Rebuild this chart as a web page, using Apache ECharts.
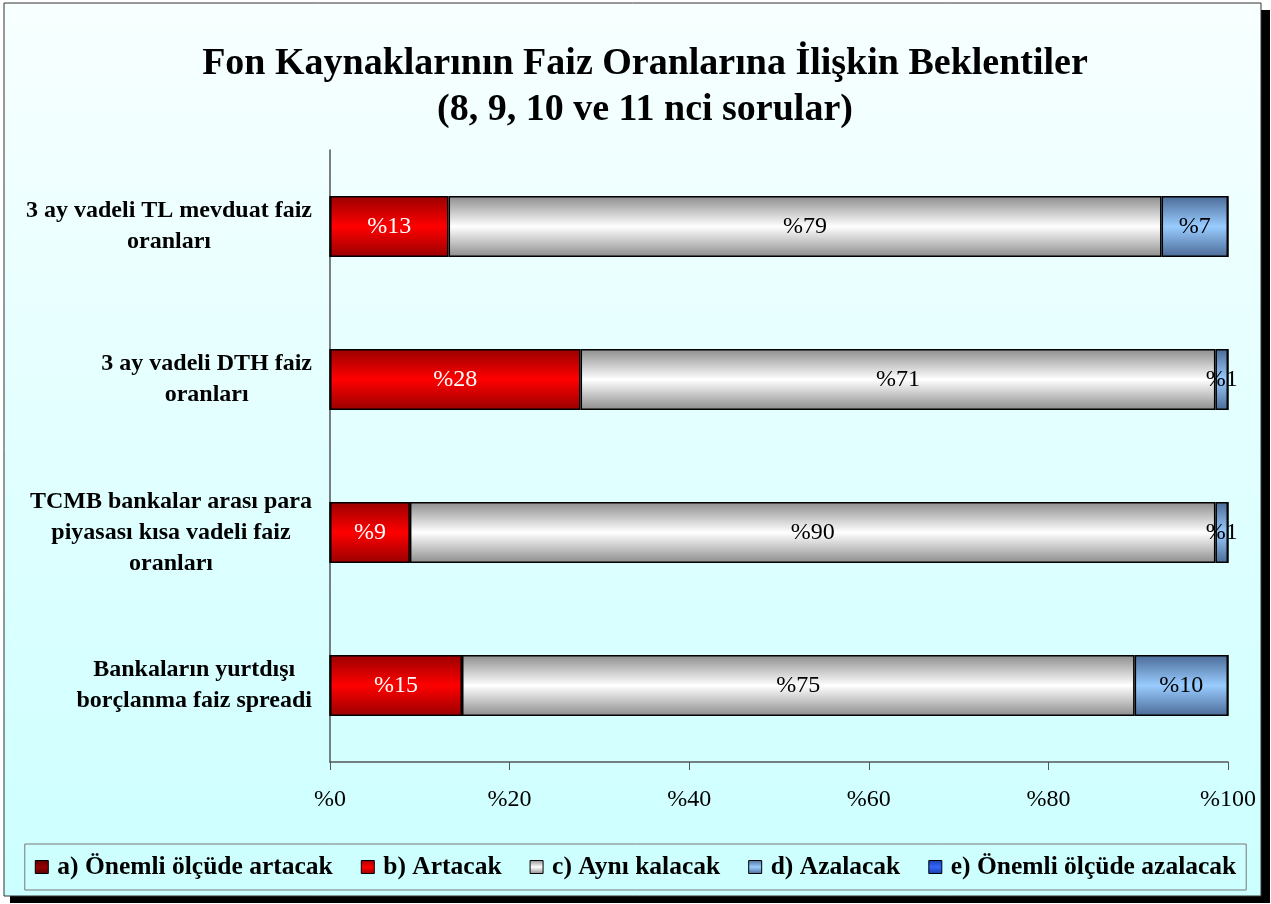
<html>
<head>
    <meta charset="utf-8">
    <title>Chart</title>
    <script src="https://cdn.jsdelivr.net/npm/echarts@6/dist/echarts.min.js"></script>
    <style>
        html, body { margin: 0; padding: 0; height: 100%; width: 100%; background: #ffffff; }
    </style>
</head>
<body>
    <div id="main" style="height: 904px; width: 1271px;"></div>
    <script type="text/javascript">
        // veriler
        var categories = [
            '3 ay vadeli TL mevduat faiz\noranları',
            '3 ay vadeli DTH faiz\noranları',
            'TCMB bankalar arası para\npiyasası kısa vadeli faiz\noranları',
            'Bankaların yurtdışı\nborçlanma faiz spreadi'
        ];
        var seriesNames = ['a) Önemli ölçüde artacak', 'b) Artacak', 'c) Aynı kalacak', 'd) Azalacak', 'e) Önemli ölçüde azalacak'];
        var onemliArtacak = [0, 0, 0, 0];
        var artacak = [13.2, 27.9, 8.9, 14.7];
        var ayniKalacak = [79.4, 70.7, 89.7, 74.9];
        var azalacak = [7.4, 1.4, 1.4, 10.4];
        var onemliAzalacak = [0, 0, 0, 0];
        var xTicks = [0, 20, 40, 60, 80, 100];

        var serif = '"Liberation Serif", "Times New Roman", serif';

        function grad(edge, mid) {
            return new echarts.graphic.LinearGradient(0, 0, 0, 1, [
                { offset: 0, color: edge },
                { offset: 0.5, color: mid },
                { offset: 1, color: edge }
            ]);
        }

        var colors = [
            grad('#5a0000', '#990000'),
            grad('#990000', '#ff0000'),
            grad('#8c8c8c', '#ffffff'),
            grad('#4a6a96', '#99ccff'),
            grad('#1a3caa', '#3366ff')
        ];
        var textColors = ['#ffffff', '#ffffff', '#000000', '#000000', '#000000'];
        var dataSets = [onemliArtacak, artacak, ayniKalacak, azalacak, onemliAzalacak];

        var series = seriesNames.map(function (name, i) {
            return {
                name: name,
                type: 'bar',
                stack: 'toplam',
                barWidth: '40%',
                data: dataSets[i],
                itemStyle: { color: colors[i], borderColor: '#000', borderWidth: 1.5 },
                label: {
                    show: true,
                    position: 'inside',
                    fontFamily: serif,
                    fontSize: 24,
                    color: textColors[i],
                    formatter: function (p) {
                        return p.value > 0 ? '%' + Math.round(p.value) : '';
                    }
                }
            };
        });

        var myChart = echarts.init(document.getElementById('main'));
        var option = {
            animation: false,
            graphic: [
                { type: 'rect', z: -20, silent: true, shape: { x: 10, y: 10, width: 1260, height: 893 }, style: { fill: '#000' } },
                {
                    type: 'rect', z: -19, silent: true,
                    shape: { x: 4, y: 3, width: 1257, height: 893 },
                    style: {
                        fill: new echarts.graphic.LinearGradient(0, 0, 0, 1, [
                            { offset: 0, color: '#f8ffff' },
                            { offset: 1, color: '#ccffff' }
                        ]),
                        stroke: '#333', lineWidth: 1
                    }
                }
            ],
            title: {
                text: 'Fon Kaynaklarının Faiz Oranlarına İlişkin Beklentiler\n(8, 9, 10 ve 11 nci sorular)',
                left: 640,
                textAlign: 'center',
                top: 36,
                textStyle: { fontFamily: serif, fontWeight: 'bold', fontSize: 38, lineHeight: 46, color: '#000' }
            },
            legend: {
                data: seriesNames,
                bottom: 14,
                left: 'center',
                icon: 'rect',
                itemWidth: 13,
                itemHeight: 13,
                itemGap: 28,
                padding: [10, 10],
                borderColor: '#777',
                borderWidth: 1,
                itemStyle: { borderColor: '#000', borderWidth: 1 },
                textStyle: { fontFamily: serif, fontWeight: 'bold', fontSize: 25.5, color: '#000', padding: [0, 0, 0, 4] }
            },
            grid: { left: 330, right: 43, top: 150, bottom: 142, containLabel: false },
            xAxis: {
                type: 'value',
                min: 0,
                max: 100,
                interval: 20,
                axisLine: { show: true, lineStyle: { color: '#555', width: 1.5 } },
                axisTick: { show: true, length: 8, lineStyle: { color: '#555' } },
                splitLine: { show: false },
                axisLabel: {
                    margin: 26,
                    fontFamily: serif,
                    fontSize: 24,
                    color: '#000',
                    customValues: xTicks,
                    formatter: function (v) { return '%' + v; }
                }
            },
            yAxis: {
                type: 'category',
                inverse: true,
                data: categories,
                axisLine: { show: true, lineStyle: { color: '#555', width: 1.5 } },
                axisTick: { show: false },
                axisLabel: {
                    margin: 18,
                    align: 'right',
                    fontFamily: serif,
                    fontWeight: 'bold',
                    fontSize: 24,
                    lineHeight: 31,
                    color: '#000',
                    formatter: function (v) {
                        return v.split('\n').map(function (s) { return '{c|' + s + '}'; }).join('\n');
                    },
                    rich: {
                        c: { align: 'center', fontFamily: serif, fontWeight: 'bold', fontSize: 24, lineHeight: 31, color: '#000' }
                    }
                }
            },
            series: series
        };
        myChart.setOption(option);
    </script>
</body>
</html>
